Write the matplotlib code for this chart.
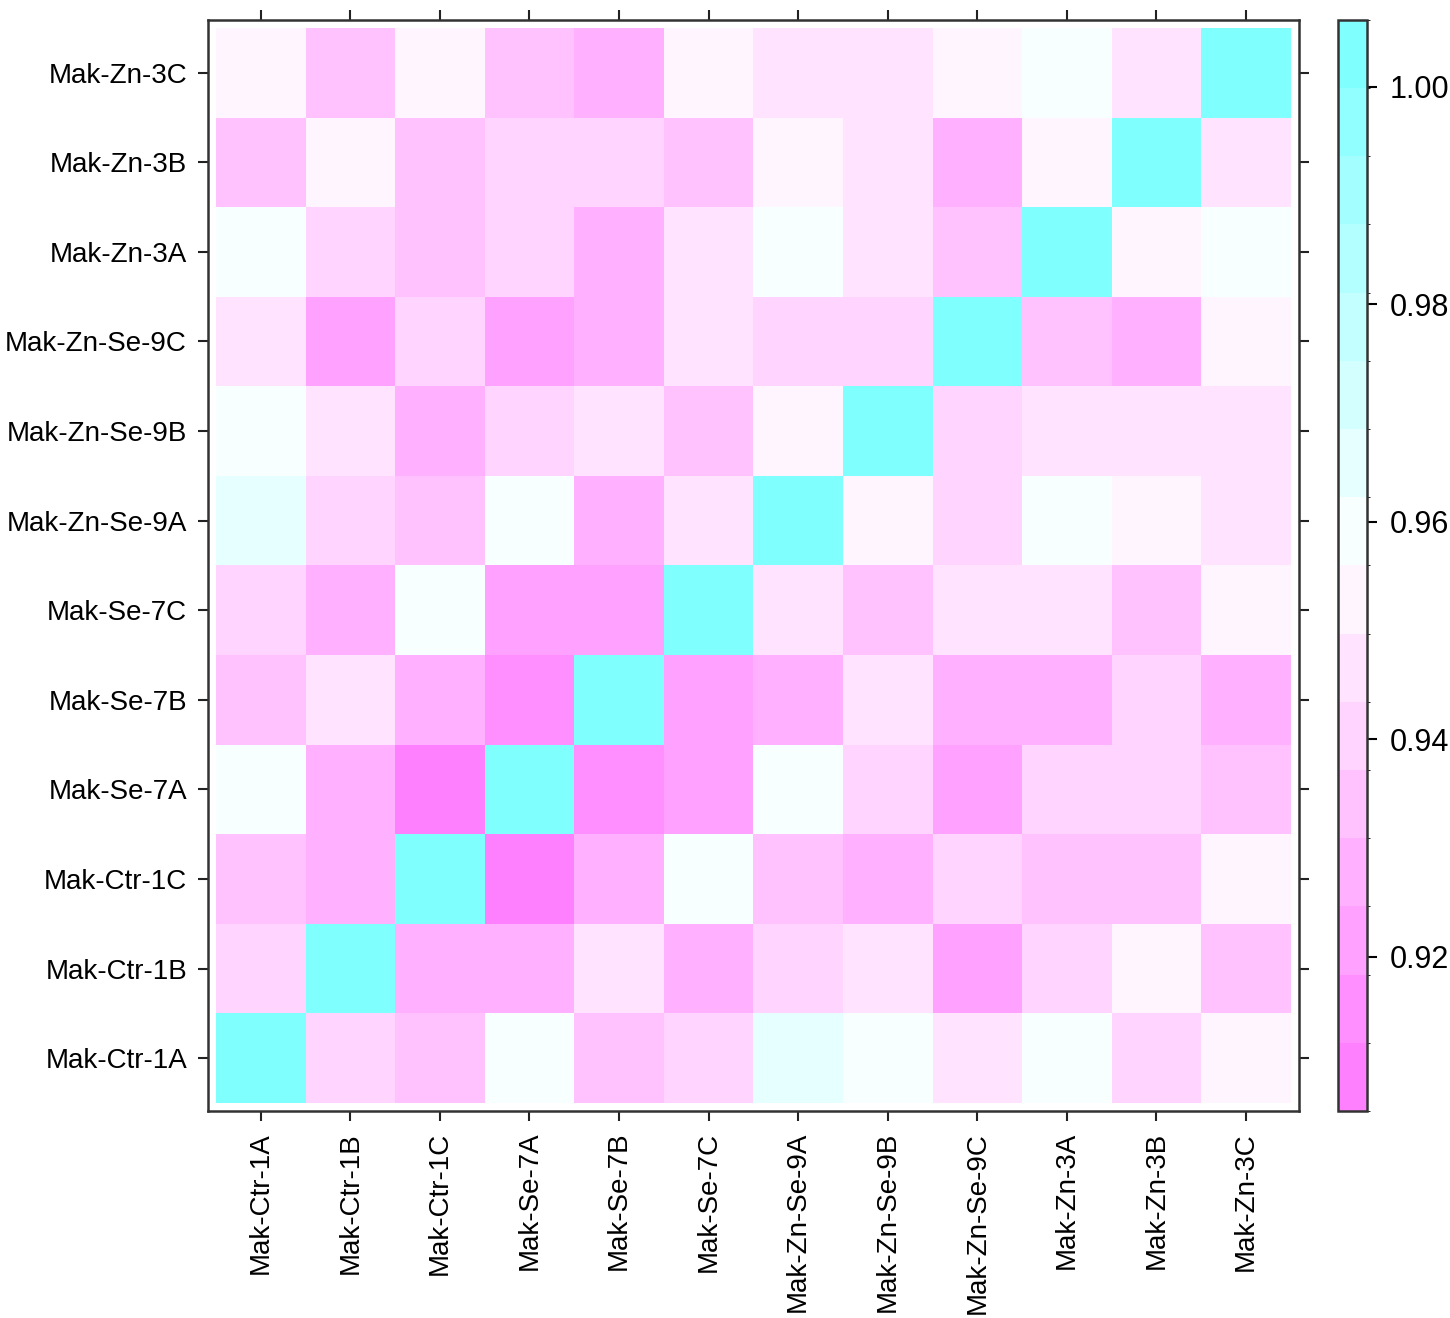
import colorsys
import numpy as np
import matplotlib
matplotlib.use("Agg")
import matplotlib.pyplot as plt
from matplotlib.colors import ListedColormap, BoundaryNorm

# sample names, bottom-to-top on y, left-to-right on x
samples = ["Mak-Ctr-1A", "Mak-Ctr-1B", "Mak-Ctr-1C",
           "Mak-Se-7A", "Mak-Se-7B", "Mak-Se-7C",
           "Mak-Zn-Se-9A", "Mak-Zn-Se-9B", "Mak-Zn-Se-9C",
           "Mak-Zn-3A", "Mak-Zn-3B", "Mak-Zn-3C"]

# correlation values, rows listed from the top row (Mak-Zn-3C) down to Mak-Ctr-1A
row_zn3c   = [.953, .934, .953, .934, .928, .953, .947, .947, .953, .959, .947, 1.0]
row_zn3b   = [.934, .953, .934, .941, .941, .934, .953, .947, .928, .953, 1.0, .947]
row_zn3a   = [.959, .941, .934, .941, .928, .947, .959, .947, .934, 1.0, .953, .959]
row_znse9c = [.947, .922, .941, .922, .928, .947, .941, .941, 1.0, .934, .928, .953]
row_znse9b = [.959, .947, .928, .941, .947, .934, .953, 1.0, .941, .947, .947, .947]
row_znse9a = [.966, .941, .934, .959, .928, .947, 1.0, .953, .941, .959, .953, .947]
row_se7c   = [.941, .928, .959, .922, .922, 1.0, .947, .934, .947, .947, .934, .953]
row_se7b   = [.934, .947, .928, .916, 1.0, .922, .928, .947, .928, .928, .941, .928]
row_se7a   = [.959, .928, .912, 1.0, .916, .922, .959, .941, .922, .941, .941, .934]
row_ctr1c  = [.934, .928, 1.0, .912, .928, .959, .934, .928, .941, .934, .934, .953]
row_ctr1b  = [.941, 1.0, .928, .928, .947, .928, .941, .947, .922, .941, .953, .934]
row_ctr1a  = [1.0, .941, .934, .959, .934, .941, .966, .959, .947, .959, .941, .953]

corr = np.array([row_zn3c, row_zn3b, row_zn3a, row_znse9c, row_znse9b, row_znse9a,
                 row_se7c, row_se7b, row_se7a, row_ctr1c, row_ctr1b, row_ctr1a])
row_labels = samples[::-1]

cbar_ticks = [0.92, 0.94, 0.96, 0.98, 1.00]


# lattice-style palette: rev(cm.colors(100)), 16 levels
def cm_colors(n):
    k = n // 2
    cols = []
    for s in np.linspace(0.5, 0.5 / k, k):
        cols.append(colorsys.hsv_to_rgb(6 / 12, s, 1))
    for s in np.linspace(0, 0.5, n - k + 1)[1:]:
        cols.append(colorsys.hsv_to_rgb(10 / 12, s, 1))
    return cols


pal = cm_colors(100)[::-1]
nlev = 16
idx = np.floor(np.linspace(1, 100, nlev)).astype(int) - 1
cmap = ListedColormap([pal[i] for i in idx])

zmin, zmax = corr.min(), corr.max()
d = zmax - zmin
levels = np.linspace(zmin - 0.07 * d, zmax + 0.07 * d, nlev + 1)
norm = BoundaryNorm(levels, cmap.N)

plt.rcParams['font.family'] = ['Liberation Sans', 'DejaVu Sans']

fig = plt.figure(figsize=(14.5, 13.18), dpi=100)
ax = fig.add_axes([0.1434, 0.1571, 0.7524, 0.8278])
cax = fig.add_axes([0.9228, 0.1571, 0.02, 0.8278])

n = len(samples)
mesh = ax.pcolormesh(np.arange(n + 1) - 0.5, np.arange(n + 1) - 0.5, corr,
                     cmap=cmap, norm=norm, edgecolors='none')
pad = 0.09
ax.set_xlim(-0.5 - pad, n - 0.5 + pad)
ax.set_ylim(n - 0.5 + pad, -0.5 - pad)

ax.set_xticks(range(n))
ax.set_xticklabels(samples, rotation=90, fontsize=20)
ax.set_yticks(range(n))
ax.set_yticklabels(row_labels, fontsize=20)
ax.tick_params(direction='out', length=7, width=1.5, colors='#222222',
               top=True, right=True, labelcolor='black', pad=8)
for sp in ax.spines.values():
    sp.set_linewidth(1.8)
    sp.set_color('#333333')

cb = fig.colorbar(mesh, cax=cax, ticks=cbar_ticks)
cb.ax.set_yticklabels(["%.2f" % t for t in cbar_ticks], fontsize=22)
cb.ax.tick_params(direction='out', length=7, width=1.5, pad=9)
cb.outline.set_linewidth(1.8)
cb.outline.set_edgecolor('#333333')

fig.savefig("out.png", dpi=100)
